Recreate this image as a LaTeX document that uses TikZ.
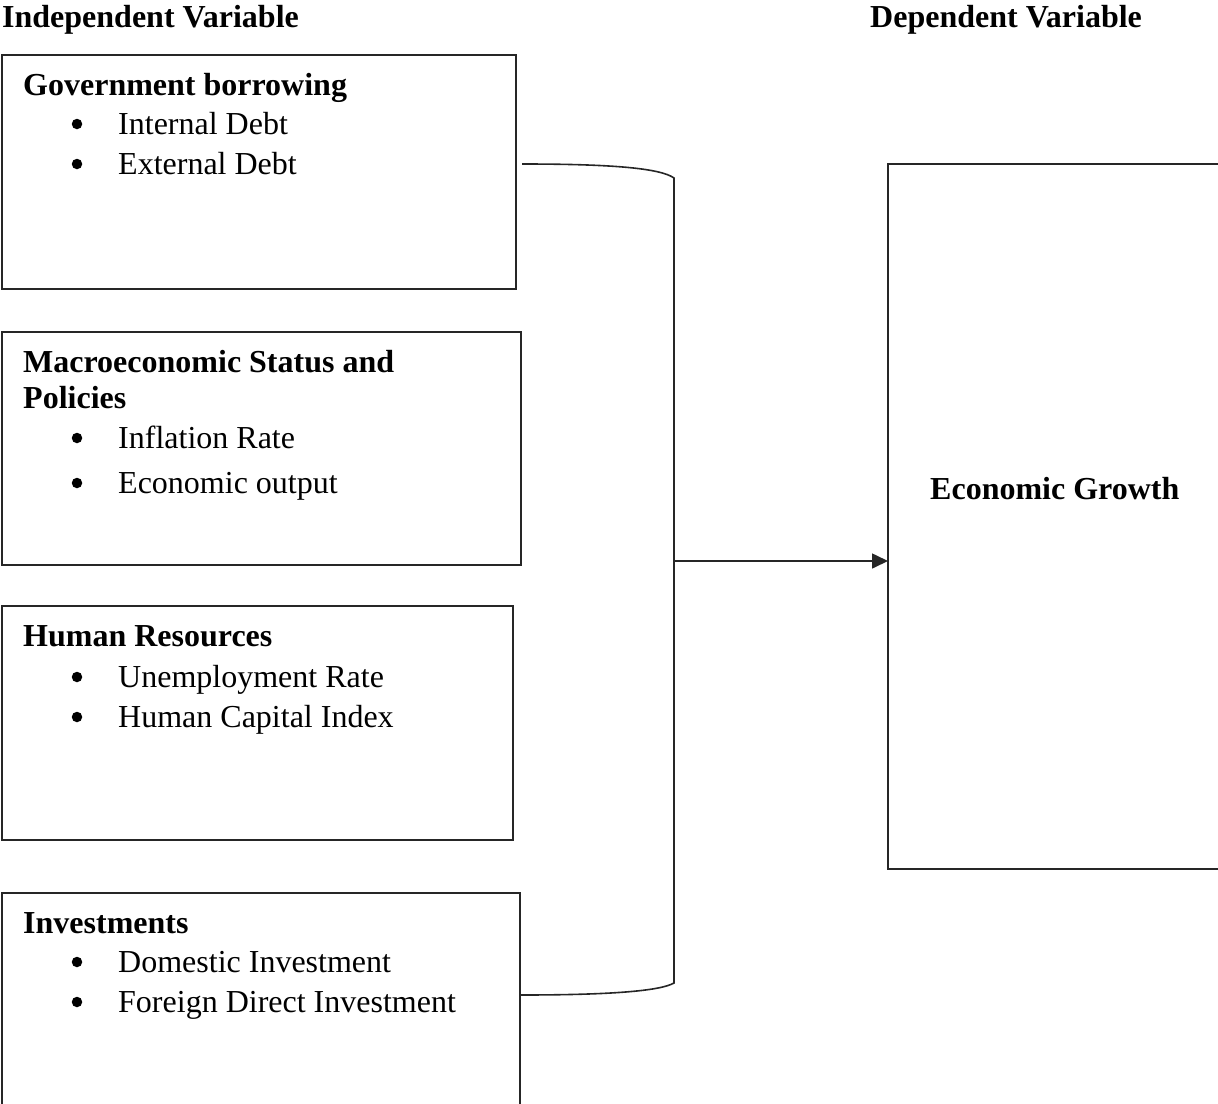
\documentclass[tikz,border=0pt]{standalone}
\usepackage{fontspec}
\setmainfont{Liberation Serif}
\usetikzlibrary{arrows.meta}
\tikzset{
  boxline/.style={draw=black!85, line width=1.6pt},
  txt/.style={anchor=base west, inner sep=0pt, font=\fontsize{32}{36}\selectfont},
  head/.style={txt, font=\fontsize{32}{36}\selectfont\bfseries},
  bul/.style={txt},
  dotmark/.style={circle, fill=black, inner sep=0pt, minimum size=10.5pt},
  conn/.style={draw=black!85, line width=1.6pt},
}
\newcommand{\bitem}[3]{%
  \node[dotmark] (#1b) at (77,#2-10) {};
  \node[bul] (#1) at (118,#2) {#3};}
\begin{document}
\begin{tikzpicture}[x=1pt,y=-1pt]
\useasboundingbox (0,0) rectangle (1218,1103);
\clip (0,0) rectangle (1218,1103);
% titles
\node[head] (iv) at (2,27) {Independent Variable};
\node[head] (dv) at (870,27) {Dependent Variable};
% boxes
\draw[boxline] (2,55) rectangle (516,289);
\draw[boxline] (2,332) rectangle (521,565);
\draw[boxline] (2,606) rectangle (513,840);
\draw[boxline] (2,893) rectangle (520,1130);
\draw[boxline] (888,164) rectangle (1225,869);
\coordinate (b1) at (516,164);
\coordinate (b4) at (520,995);
\coordinate (eg) at (888,561);
% box 1
\node[head] (h1) at (23,95) {Government borrowing};
\bitem{i11}{134}{Internal Debt}
\bitem{i12}{174}{External Debt}
% box 2
\node[head] (h2a) at (23,372) {Macroeconomic Status and};
\node[head] (h2b) at (23,408) {Policies};
\bitem{i21}{448}{Inflation Rate}
\bitem{i22}{493}{Economic output}
% box 3
\node[head] (h3) at (23,646) {Human Resources};
\bitem{i31}{687}{Unemployment Rate}
\bitem{i32}{727}{Human Capital Index}
% box 4
\node[head] (h4) at (23,933) {Investments};
\bitem{i41}{972}{Domestic Investment}
\bitem{i42}{1012}{Foreign Direct Investment}
% dependent
\node[head] (egt) at (930,499) {Economic Growth};
% bracket
\coordinate (bt) at (674,178);
\coordinate (bb) at (674,983);
\coordinate (bm) at (674,561);
\draw[conn] ([xshift=6pt]b1) .. controls (610,164) and (660,168) .. (bt) -- (bb)
  .. controls (660,991) and (610,995) .. (b4);
\draw[conn,-{Triangle[length=16pt,width=15pt]}] (bm) -- (eg);
\end{tikzpicture}
\end{document}
